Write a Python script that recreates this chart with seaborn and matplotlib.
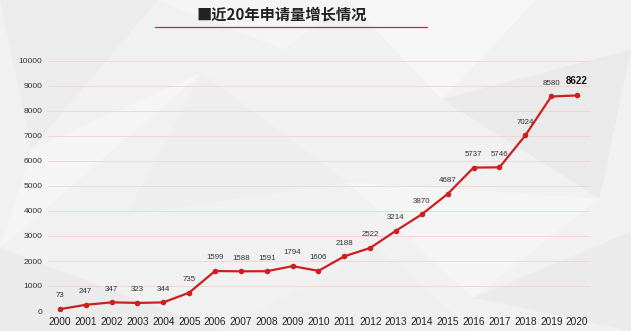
import matplotlib
matplotlib.use("Agg")
import matplotlib.pyplot as plt
from matplotlib.patches import Polygon
from matplotlib.lines import Line2D
import seaborn as sns
import pandas as pd

years = [str(y) for y in range(2000, 2021)]
counts = [73, 247, 347, 323, 344, 735, 1599, 1588, 1591, 1794, 1606,
          2188, 2522, 3214, 3870, 4687, 5737, 5746, 7024, 8580, 8622]
y_ticks = list(range(0, 10001, 1000))
title = "■近20年申请量增长情况"

sns.set_theme(style="white")
plt.rcParams["font.family"] = ["Liberation Sans", "Noto Sans CJK SC", "DejaVu Sans"]

fig = plt.figure(figsize=(6.31, 3.31), dpi=100)
fig.patch.set_facecolor("#f1f1f1")

# faint low-poly backdrop on its own axes behind the chart
bg = fig.add_axes([0, 0, 1, 1], zorder=-1)
bg.set_xlim(0, 1)
bg.set_ylim(0, 1)
bg.axis("off")
shards = [
    ([(0, 1), (0.25, 1), (0.05, 0.55)], "#ececec"),
    ([(0.05, 0.55), (0.32, 0.78), (0.0, 0.25)], "#f5f5f5"),
    ([(0.0, 0.25), (0.35, 0.0), (0.0, 0.0)], "#ebebeb"),
    ([(0.32, 0.78), (0.55, 0.45), (0.2, 0.35)], "#eeeeee"),
    ([(0.55, 1), (0.85, 1), (0.7, 0.7)], "#f6f6f6"),
    ([(0.7, 0.7), (1, 0.85), (0.95, 0.4)], "#eaeaea"),
    ([(0.55, 0.45), (0.95, 0.4), (0.75, 0.1)], "#f5f5f5"),
    ([(0.75, 0.1), (1, 0), (1, 0.3)], "#ebebeb"),
    ([(0.35, 0.0), (0.6, 0.25), (0.75, 0.0)], "#efefef"),
    ([(0.25, 1), (0.45, 0.85), (0.55, 1)], "#f5f5f5"),
]
for pts, col in shards:
    bg.add_patch(Polygon(pts, closed=True, facecolor=col, edgecolor="none"))

ax = fig.add_axes([48 / 631, 20 / 331, 542 / 631, 250 / 331], zorder=1)
ax.set_facecolor("none")

df = pd.DataFrame({"year": years, "count": counts})
sns.lineplot(data=df, x="year", y="count", ax=ax, color="#cc1f1f",
             linewidth=1.6, marker="o", markersize=4, markeredgewidth=0,
             sort=False)

ax.set_ylim(0, 10000)
ax.set_xlim(-0.46, 20.5)
ax.set_yticks(y_ticks)
ax.set_yticklabels([str(v) for v in y_ticks], fontsize=6, color="#333333")
ax.tick_params(axis="x", labelsize=7.3, colors="#222222", pad=4, length=0)
ax.tick_params(axis="y", pad=4, length=0)
ax.grid(axis="y", color="#f6cfcf", linewidth=0.6)
ax.grid(axis="x", visible=False)
for s in ax.spines.values():
    s.set_visible(False)
ax.set_xlabel("")
ax.set_ylabel("")

for i, (yr, c) in enumerate(zip(years, counts)):
    last = i == len(counts) - 1
    ax.annotate(str(c), (i, c), xytext=(0, 7), textcoords="offset points",
                ha="center", va="bottom",
                fontsize=7 if last else 5.7,
                fontweight="bold" if last else "normal",
                color="#111111" if last else "#333333")

fig.text(282 / 631, 1 - 15 / 331, title, ha="center", va="center",
         fontsize=11, fontweight="bold", color="#222222",
         family=["Noto Sans CJK SC", "DejaVu Sans"])
fig.lines.append(Line2D([155 / 631, 427 / 631], [1 - 27 / 331, 1 - 27 / 331],
                        transform=fig.transFigure, color="#cc2a2a", linewidth=0.9))

fig.savefig("out.png", dpi=100, facecolor=fig.get_facecolor())
